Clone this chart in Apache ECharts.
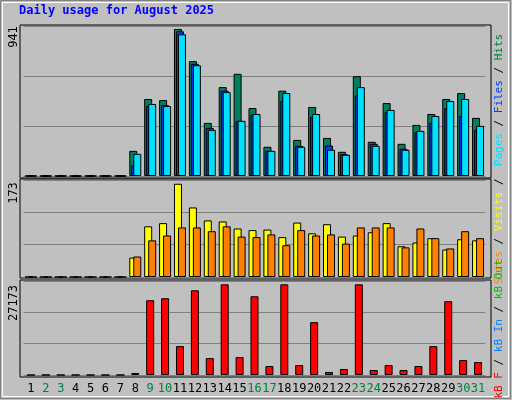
<!DOCTYPE html>
<html><head><meta charset="utf-8">
<script src="https://cdn.jsdelivr.net/npm/echarts@6/dist/echarts.min.js"></script>
<style>html,body{margin:0;padding:0;background:#c0c0c0}#c{width:512px;height:400px}</style>
</head><body><div id="c"></div>
<script>
const days = ['1','2','3','4','5','6','7','8','9','10','11','12','13','14','15','16','17','18','19','20','21','22','23','24','25','26','27','28','29','30','31'];
const weekend = ['2','3','9','10','16','17','23','24','30','31'];
const hits  = [0,0,0,0,0,0,0,161,493,486,941,735,340,569,654,435,187,546,231,442,244,155,639,219,467,206,327,397,493,531,372];
const files = [0,0,0,0,0,0,0,68,450,454,926,718,308,546,353,393,161,482,193,378,195,140,514,206,410,174,282,340,435,384,295];
const pages = [0,0,0,0,0,0,0,142,461,448,907,709,295,537,353,397,161,531,187,397,168,136,569,193,423,168,289,384,480,493,321];
const visits= [0,0,0,0,0,0,0,36,94,100,173,129,105,103,90,87,88,74,101,81,98,75,77,83,100,57,64,72,51,70,68];
const sites = [0,0,0,0,0,0,0,38,68,77,92,92,85,94,75,74,79,59,87,77,79,62,92,92,92,55,90,72,53,85,72];
const kbytes= [0,0,0,0,0,0,0,600,22400,23000,8660,25380,5080,27173,5370,23590,2690,27173,2990,15830,900,1790,27173,1490,2990,1490,2690,8660,22100,4480,3880];
const maxLabels = ['941','173','27173'];

const ch = echarts.init(document.getElementById('c'));
const mono = 'DejaVu Sans Mono';
const L = 23.5, W = 462;
const grids = [{left:L,width:W,top:26,height:150},{left:L,width:W,top:180,height:97},{left:L,width:W,top:281,height:94}];
const maxes = [960,180,28168];
const bs = {borderColor:'#000',borderWidth:1};
function xa(i){return {type:'category',gridIndex:i,data:days,axisLine:{show:false},axisTick:{show:false},
  axisLabel:{show:i===2,margin:8,interval:0,fontFamily:mono,fontSize:12,
    formatter:v=>weekend.includes(v)?'{w|'+v+'}':'{d|'+v+'}',
    rich:{w:{color:'#008040',fontFamily:mono,fontSize:12},d:{color:'#000',fontFamily:mono,fontSize:12}}}};}
function ya(i){return {type:'value',gridIndex:i,min:0,max:maxes[i],interval:maxes[i]/3,axisLabel:{show:false},axisLine:{show:false},axisTick:{show:false},splitLine:{lineStyle:{color:'#808080',width:1}}};}
function frame(y,h){return {type:'rect',shape:{x:20,y:y,width:471,height:h},style:{fill:'none',stroke:'#000',lineWidth:1},z:-1};}
function sideText(x,y,parts){
  return {type:'text',x:x,y:y,rotation:Math.PI/2,style:{rich:{
    a:{fill:parts[0][1],font:'11px '+mono},s:{fill:'#000',font:'11px '+mono},
    b:{fill:parts[1][1],font:'11px '+mono},c:{fill:parts[2][1],font:'11px '+mono}},
    text:'{a|'+parts[0][0]+'}{s| / }{b|'+parts[1][0]+'}{s| / }{c|'+parts[2][0]+'}',textAlign:'center',textVerticalAlign:'middle'}};
}
function leftText(y,t){return {type:'text',x:14,y:y,rotation:Math.PI/2,style:{text:t,font:'12px '+mono,fill:'#000',textAlign:'center',textVerticalAlign:'middle'}};}
ch.setOption({
  backgroundColor:'#c0c0c0',animation:false,
  grid:grids,
  xAxis:[xa(0),xa(1),xa(2)],
  yAxis:[ya(0),ya(1),ya(2)],
  graphic:[
    {type:'rect',shape:{x:0.5,y:0.5,width:510,height:398},style:{fill:'none',stroke:'#808080',lineWidth:1}},
    {type:'rect',shape:{x:2.5,y:2.5,width:506,height:394},style:{fill:'none',stroke:'#ffffff',lineWidth:1}},
    frame(25,153),frame(179,99),frame(280,97),
    {type:'text',left:19,top:5,style:{text:'Daily usage for August 2025',font:'bold 12px '+mono,fill:'#0000ff'}},
    leftText(37,maxLabels[0]),leftText(193,maxLabels[1]),leftText(303,maxLabels[2]),
    sideText(499,100,[['Pages','#00e0ff'],['Files','#0040ff'],['Hits','#008040']]),
    sideText(499,228,[['Sites','#ff8000'],['Visits','#ffff00'],['','#000']]),
    sideText(499,329,[['kB F','#ff0000'],['kB In','#0080ff'],['kB Out','#00c000']])
  ],
  series:[
    {type:'bar',name:'Hits',xAxisIndex:0,yAxisIndex:0,data:hits,barWidth:8,barGap:'-75%',itemStyle:Object.assign({color:'#008060'},bs)},
    {type:'bar',name:'Files',xAxisIndex:0,yAxisIndex:0,data:files,barWidth:8,barGap:'-75%',itemStyle:Object.assign({color:'#0040ff'},bs)},
    {type:'bar',name:'Pages',xAxisIndex:0,yAxisIndex:0,data:pages,barWidth:8,barGap:'-75%',itemStyle:Object.assign({color:'#00e0ff'},bs)},
    {type:'bar',name:'Visits',xAxisIndex:1,yAxisIndex:1,data:visits,barWidth:8,barGap:'-50%',itemStyle:Object.assign({color:'#ffff00'},bs)},
    {type:'bar',name:'Sites',xAxisIndex:1,yAxisIndex:1,data:sites,barWidth:8,barGap:'-50%',itemStyle:Object.assign({color:'#ff8000'},bs)},
    {type:'bar',name:'kB F',xAxisIndex:2,yAxisIndex:2,data:kbytes,barWidth:8,itemStyle:Object.assign({color:'#ff0000'},bs)}
  ]
});
</script></body></html>
